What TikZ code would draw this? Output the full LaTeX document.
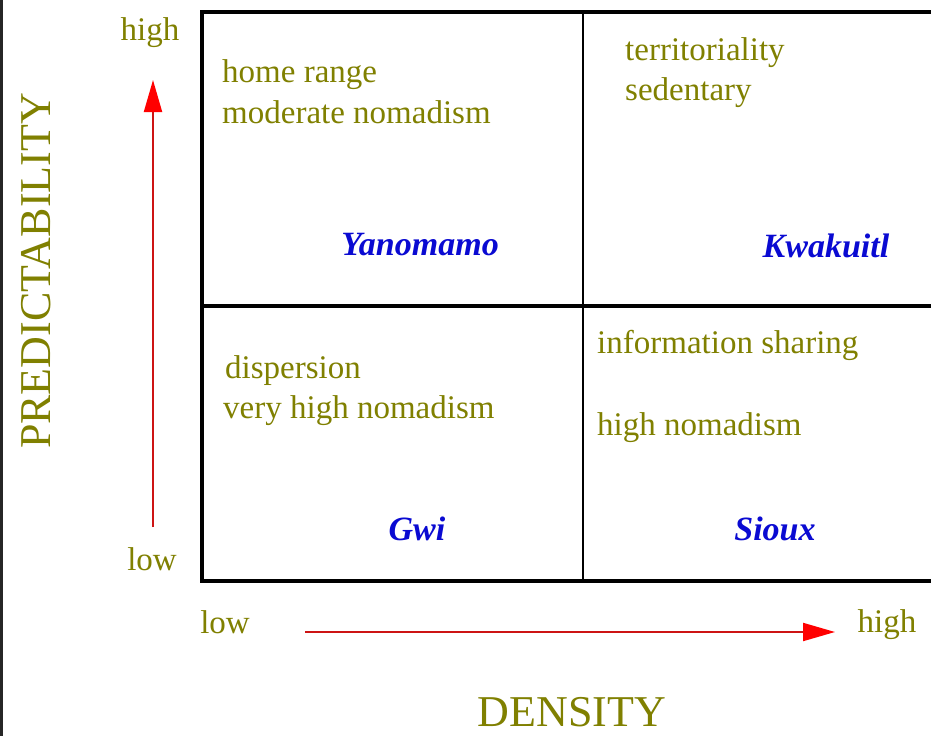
\documentclass[tikz,border=0pt]{standalone}
\usepackage{fontspec}
\setmainfont{Liberation Serif}
\usetikzlibrary{arrows.meta}

\definecolor{txtolive}{RGB}{128,128,0}
\definecolor{tribeblue}{RGB}{10,10,210}
\definecolor{axisred}{RGB}{205,20,20}

\begin{document}
\begin{tikzpicture}[
    x=1pt, y=-1pt,
    celltext/.style  = {text=txtolive, inner sep=0pt, anchor=base west,
                        font=\fontsize{33}{40}\selectfont},
    tribe/.style     = {text=tribeblue, inner sep=0pt, anchor=base,
                        font=\fontsize{34}{40}\selectfont\bfseries\itshape},
    endlabel/.style  = {text=txtolive, inner sep=0pt, anchor=base,
                        font=\fontsize{33}{40}\selectfont},
    axisname/.style  = {text=txtolive, inner sep=0pt, anchor=base,
                        font=\fontsize{44}{50}\selectfont},
    axisarrow/.style = {draw=axisred, line width=2pt,
                        -{Triangle[length=32pt,width=18pt,fill=red,color=red]}},
    gridline/.style  = {draw=black, line width=4pt}
]
\fill[white] (0,0) rectangle (931,736);
\useasboundingbox (0,0) rectangle (931,736);
\clip (0,0) rectangle (931,736);

% --- Frame edge ---------------------------------------------------------------
\draw[line width=3pt, black!85] (1.5,0) -- (1.5,736);

% --- Grid ---------------------------------------------------------------------
\draw[gridline] (202,12) rectangle (960,581);
\draw[gridline] (202,306) -- (960,306);
\draw[line width=2pt] (583,12) -- (583,581);

% --- Cell texts ---------------------------------------------------------------
\node[celltext] (homerange) at (222,82)  {home range};
\node[celltext] (modnomad)  at (222,123) {moderate nomadism};
\node[tribe]    (yanomamo)  at (420,255) {Yanomamo};

\node[celltext] (territ)    at (625,60)  {territoriality};
\node[celltext] (sedent)    at (625,100) {sedentary};
\node[tribe]    (kwakuitl)  at (826,257) {Kwakuitl};

\node[celltext] (dispers)   at (225,378) {dispersion};
\node[celltext] (vhnomad)   at (223,418) {very high nomadism};
\node[tribe]    (gwi)       at (417,540) {Gwi};

\node[celltext] (infoshare) at (597,353) {information sharing};
\node[celltext] (hnomad)    at (597,435) {high nomadism};
\node[tribe]    (sioux)     at (775,540) {Sioux};

% --- Axes ---------------------------------------------------------------------
\node[endlabel] (predhigh) at (150,40)  {high};
\node[endlabel] (predlow)  at (152,570) {low};
\node[endlabel] (denslow)  at (225,633) {low};
\node[endlabel] (denshigh) at (887,632) {high};

\node[axisname, rotate=90] (predict) at (50,271)  {PREDICTABILITY};
\node[axisname]            (density) at (572,726) {DENSITY};

\coordinate (vfrom) at (153,527);
\coordinate (vto)   at (153,80);
\coordinate (hfrom) at (305,632);
\coordinate (hto)   at (835,632);

\draw[axisarrow] (vfrom) -- (vto);
\draw[axisarrow] (hfrom) -- (hto);

\end{tikzpicture}
\end{document}
